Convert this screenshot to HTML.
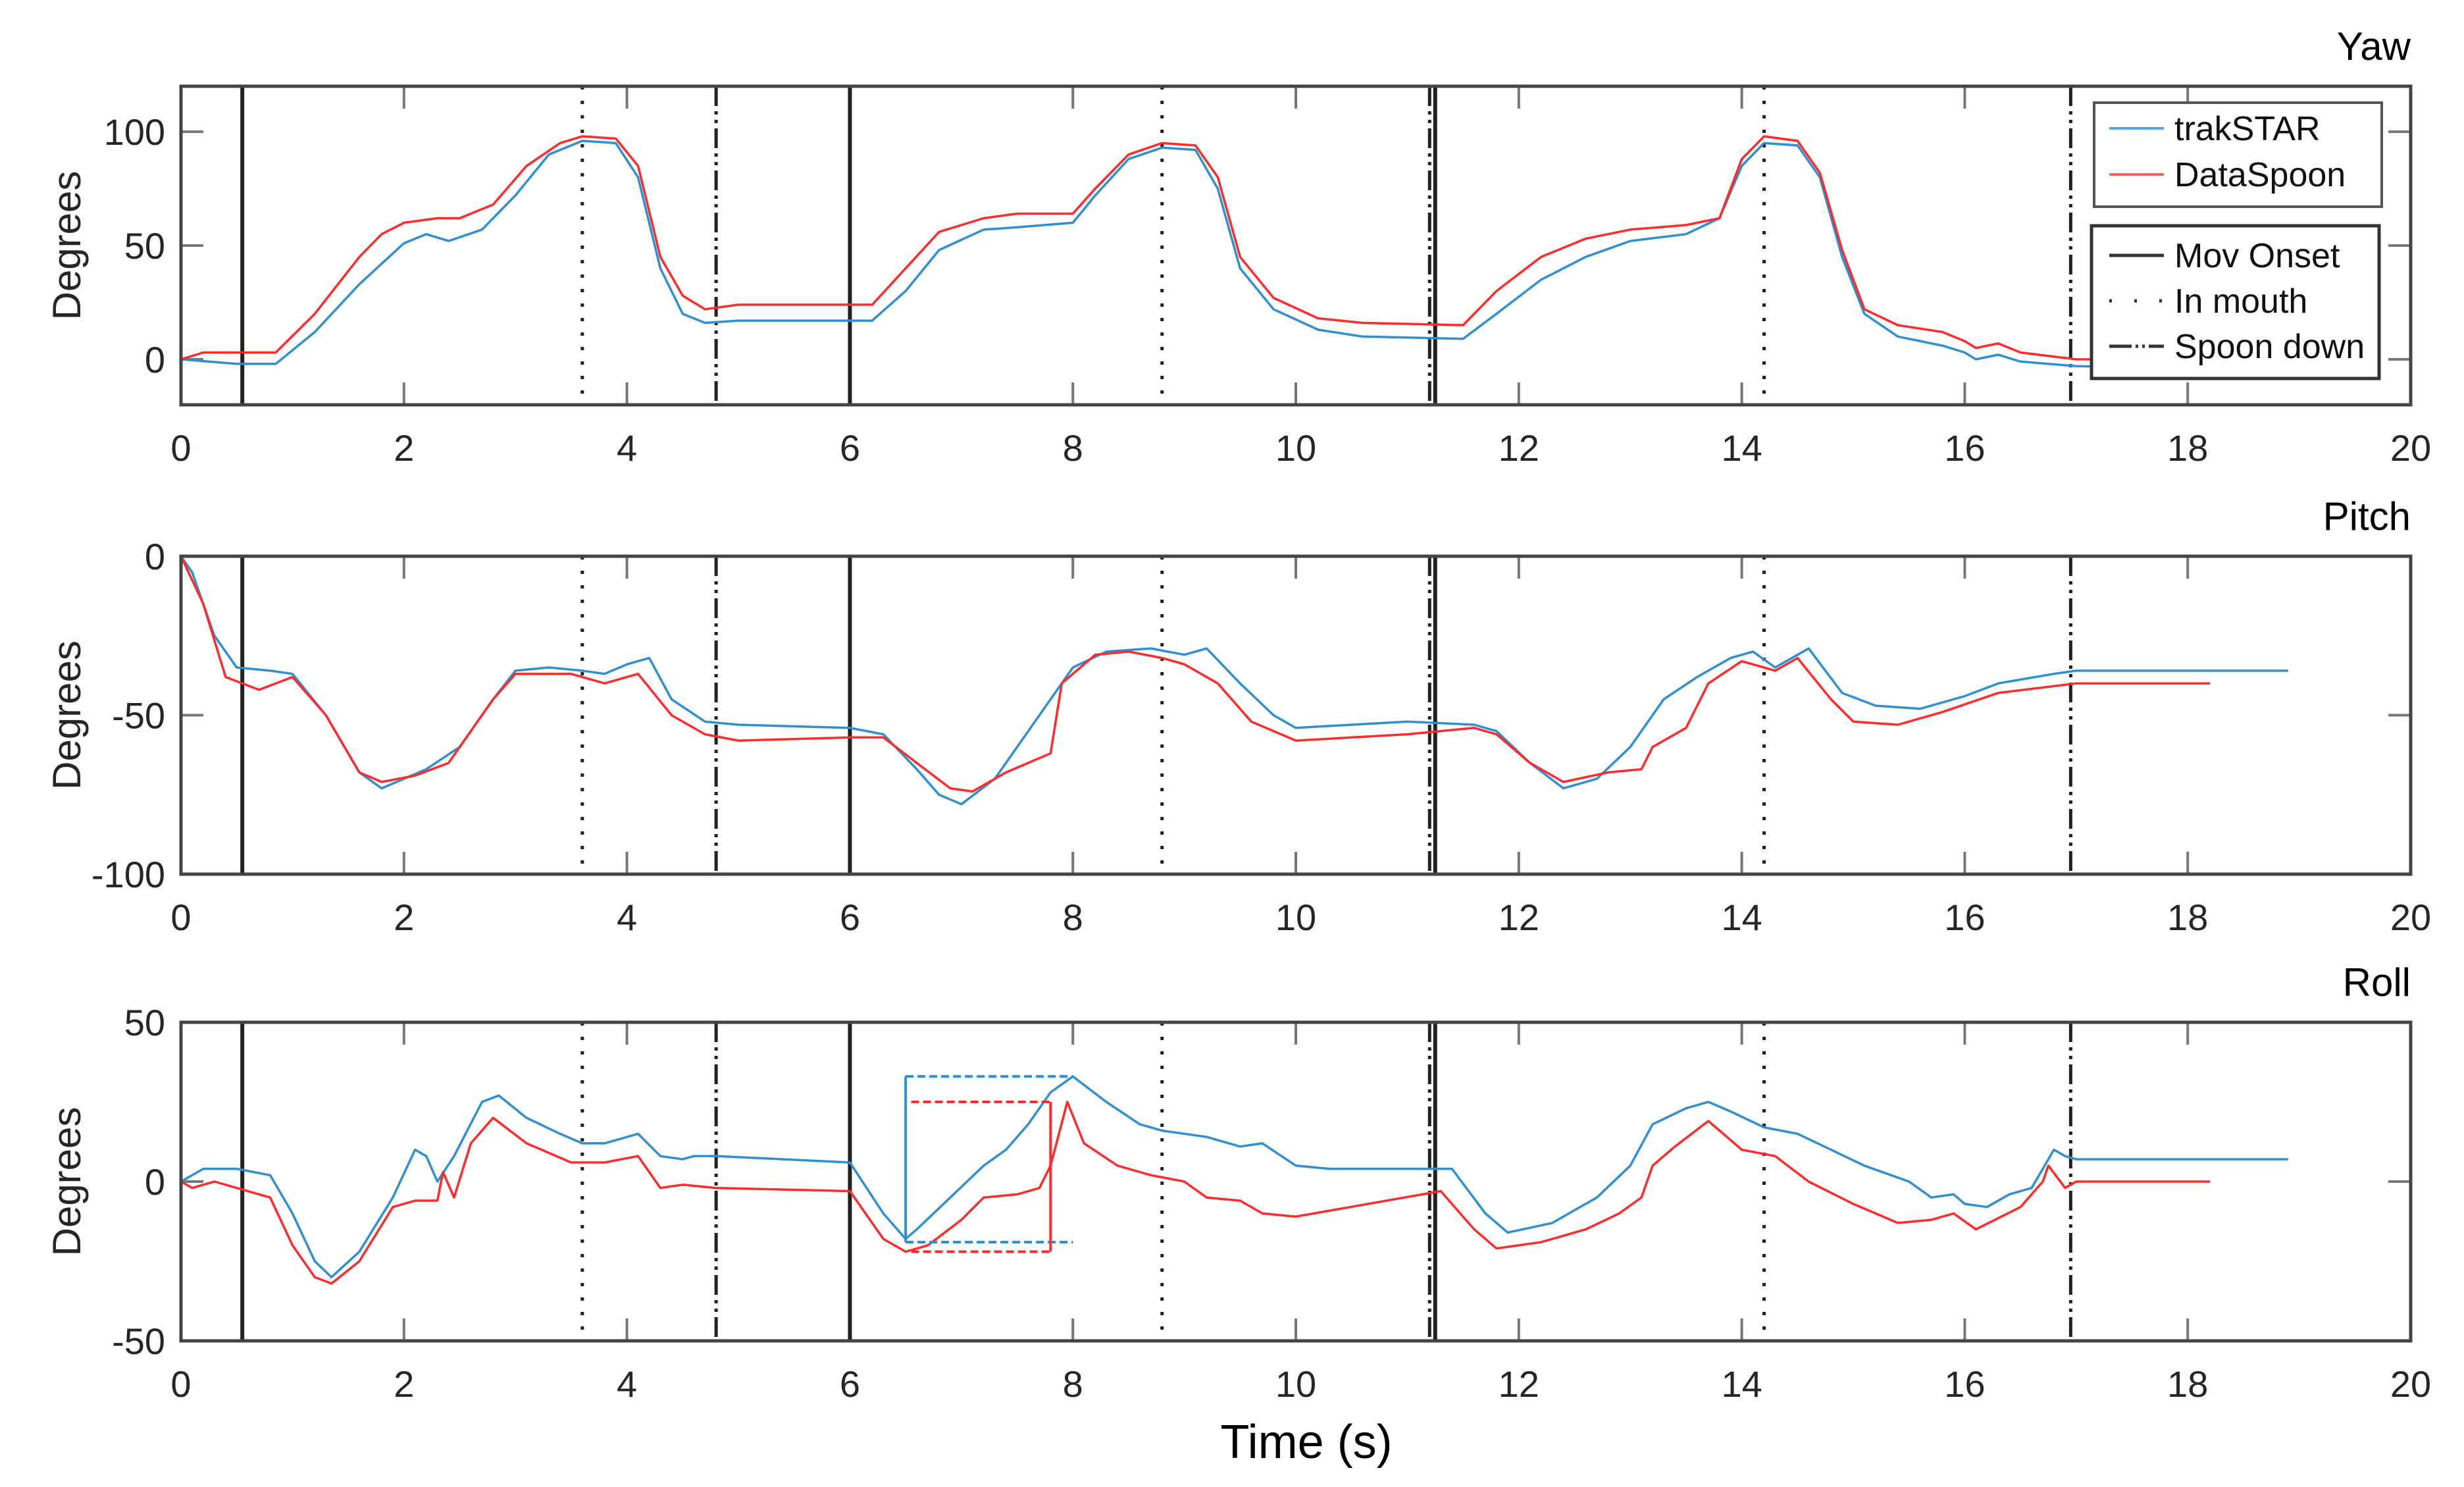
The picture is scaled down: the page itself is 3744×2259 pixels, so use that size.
<!DOCTYPE html>
<html><head><meta charset="utf-8"><style>
html,body{margin:0;padding:0;background:#fff;}
svg{display:block;font-family:"Liberation Sans",Arial,sans-serif;}
</style></head><body>
<svg id="fig" width="3744" height="2259" viewBox="0 0 3744 2259" xmlns="http://www.w3.org/2000/svg"></svg>
<script>
// ---- data ----
const xTicks=[0,2,4,6,8,10,12,14,16,18,20];
const movOnset=[0.55,6.0,11.25];
const inMouth=[3.6,8.8,14.2];
const spoonDown=[4.8,11.2,16.95];
const yawTicks=[0,50,100];
const pitchTicks=[-100,-50,0];
const rollTicks=[-50,0,50];
const yawBlueT=[0,0.5,0.85,1.2,1.6,2.0,2.2,2.4,2.7,3.0,3.3,3.6,3.9,4.1,4.3,4.5,4.7,5,6.2,6.5,6.8,7.2,7.5,8.0,8.2,8.5,8.8,9.1,9.3,9.5,9.8,10.2,10.6,11.5,11.8,12.2,12.6,13,13.5,13.8,14,14.2,14.5,14.7,14.9,15.1,15.4,15.8,16,16.1,16.3,16.5,17,18,18.9];
const yawBlueV=[0,-2,-2,12,33,51,55,52,57,72,90,96,95,80,40,20,16,17,17,30,48,57,58,60,72,88,93,92,75,40,22,13,10,9,20,35,45,52,55,62,85,95,94,80,45,20,10,6,3,0,2,-1,-3,-4,-4];
const yawRedT=[0,0.2,0.85,1.2,1.6,1.8,2.0,2.3,2.5,2.8,3.1,3.4,3.6,3.9,4.1,4.3,4.5,4.7,5,6.2,6.5,6.8,7.2,7.5,8.0,8.2,8.5,8.8,9.1,9.3,9.5,9.8,10.2,10.6,11.5,11.8,12.2,12.6,13,13.5,13.8,14,14.2,14.5,14.7,14.9,15.1,15.4,15.8,16,16.1,16.3,16.5,17,18,18.2];
const yawRedV=[0,3,3,20,45,55,60,62,62,68,85,95,98,97,85,45,28,22,24,24,40,56,62,64,64,75,90,95,94,80,45,27,18,16,15,30,45,53,57,59,62,88,98,96,82,48,22,15,12,8,5,7,3,0,0,0];
const pitchBlueT=[0,0.1,0.3,0.5,0.8,1.0,1.3,1.6,1.8,2.0,2.2,2.5,2.8,3.0,3.3,3.6,3.8,4.0,4.2,4.4,4.7,5.0,6.0,6.3,6.6,6.8,7.0,7.3,7.6,8.0,8.3,8.7,9.0,9.2,9.5,9.8,10.0,10.5,11.0,11.6,11.8,12.1,12.4,12.7,13.0,13.3,13.6,13.9,14.1,14.3,14.6,14.9,15.2,15.6,16.0,16.3,16.8,17,18.9];
const pitchBlueV=[0,-5,-25,-35,-36,-37,-50,-68,-73,-70,-67,-60,-45,-36,-35,-36,-37,-34,-32,-45,-52,-53,-54,-56,-67,-75,-78,-70,-55,-35,-30,-29,-31,-29,-40,-50,-54,-53,-52,-53,-55,-65,-73,-70,-60,-45,-38,-32,-30,-35,-29,-43,-47,-48,-44,-40,-37,-36,-36];
const pitchRedT=[0,0.2,0.4,0.7,1.0,1.3,1.6,1.8,2.1,2.4,2.8,3.0,3.5,3.8,4.1,4.4,4.7,5.0,6.0,6.3,6.6,6.9,7.1,7.4,7.8,7.9,8.2,8.5,8.8,9.0,9.3,9.6,10.0,10.5,11.0,11.6,11.8,12.1,12.4,12.8,13.1,13.2,13.5,13.7,14.0,14.3,14.5,14.8,15.0,15.4,15.8,16.3,17,18.2];
const pitchRedV=[0,-15,-38,-42,-38,-50,-68,-71,-69,-65,-45,-37,-37,-40,-37,-50,-56,-58,-57,-57,-65,-73,-74,-68,-62,-40,-31,-30,-32,-34,-40,-52,-58,-57,-56,-54,-56,-65,-71,-68,-67,-60,-54,-40,-33,-36,-32,-45,-52,-53,-49,-43,-40,-40];
const rollBlueT=[0,0.2,0.5,0.8,1.0,1.2,1.35,1.6,1.9,2.1,2.2,2.3,2.45,2.7,2.85,3.1,3.4,3.6,3.8,4.1,4.3,4.5,4.6,4.8,6.0,6.3,6.5,6.6,6.9,7.2,7.4,7.6,7.8,8.0,8.3,8.6,8.8,9.2,9.5,9.7,10.0,10.3,11.4,11.7,11.9,12.3,12.7,13.0,13.2,13.5,13.7,13.9,14.2,14.5,14.8,15.1,15.5,15.7,15.9,16.0,16.2,16.4,16.6,16.8,16.9,17.0,18.9];
const rollBlueV=[0,4,4,2,-10,-25,-30,-22,-5,10,8,0,8,25,27,20,15,12,12,15,8,7,8,8,6,-10,-18,-15,-5,5,10,18,28,33,25,18,16,14,11,12,5,4,4,-10,-16,-13,-5,5,18,23,25,22,17,15,10,5,0,-5,-4,-7,-8,-4,-2,10,8,7,7];
const rollRedT=[0,0.1,0.3,0.5,0.8,1.0,1.2,1.35,1.6,1.9,2.1,2.3,2.35,2.45,2.6,2.8,3.1,3.5,3.8,4.1,4.3,4.5,4.8,6.0,6.3,6.5,6.7,7.0,7.2,7.5,7.7,7.8,7.95,8.1,8.4,8.7,9.0,9.2,9.5,9.7,10.0,11.3,11.6,11.8,12.2,12.6,12.9,13.1,13.2,13.4,13.7,14.0,14.3,14.6,15.0,15.4,15.7,15.9,16.1,16.5,16.7,16.75,16.9,17.0,18.2];
const rollRedV=[0,-2,0,-2,-5,-20,-30,-32,-25,-8,-6,-6,3,-5,12,20,12,6,6,8,-2,-1,-2,-3,-18,-22,-20,-12,-5,-4,-2,5,25,12,5,2,0,-5,-6,-10,-11,-3,-15,-21,-19,-15,-10,-5,5,11,19,10,8,0,-7,-13,-12,-10,-15,-8,0,5,-2,0,0];
// roll inset boxes: [tStart,tEnd,yTop,yBottom]
const blueBox=[6.5,8.0,33,-19];
const redBox=[6.55,7.8,25,-22];

// ---- layout ----
const NS="http://www.w3.org/2000/svg";
const svg=document.getElementById('fig');
const X0=275,X1=3663;
const panels=[
 {name:'yaw',title:'Yaw',top:131,bot:615,ymin:-20,ymax:120,ticks:yawTicks,series:[[yawBlueT,yawBlueV,'#2f8fd4'],[yawRedT,yawRedV,'#ff2a2a']]},
 {name:'pitch',title:'Pitch',top:845,bot:1328,ymin:-100,ymax:0,ticks:pitchTicks,series:[[pitchBlueT,pitchBlueV,'#2f8fd4'],[pitchRedT,pitchRedV,'#ff2a2a']]},
 {name:'roll',title:'Roll',top:1553,bot:2037,ymin:-50,ymax:50,ticks:rollTicks,series:[[rollBlueT,rollBlueV,'#2f8fd4'],[rollRedT,rollRedV,'#ff2a2a']]}
];
function el(tag,attrs,parent){const e=document.createElementNS(NS,tag);for(const k in attrs)e.setAttribute(k,attrs[k]);(parent||svg).appendChild(e);return e;}
const xs=t=>X0+(t-0)/(20-0)*(X1-X0);

panels.forEach(p=>{
  const ys=v=>p.bot-(v-p.ymin)/(p.ymax-p.ymin)*(p.bot-p.top);
  const g=el('g',{});
  
  
  const clipId='clip-'+p.name;
  const cp=el('clipPath',{id:clipId},g);el('rect',{x:X0,y:p.top,width:X1-X0,height:p.bot-p.top},cp);
  xTicks.forEach(t=>{
    const x=xs(t);
    el('line',{x1:x,x2:x,y1:p.bot,y2:p.bot-34,stroke:'#777','stroke-width':4},g);
    el('line',{x1:x,x2:x,y1:p.top,y2:p.top+34,stroke:'#777','stroke-width':4},g);
    const tx=el('text',{x:x,y:p.bot+85,'font-size':56,'text-anchor':'middle',fill:'#262626'},g);
    tx.textContent=t;
    
    
  });
  p.ticks.forEach(v=>{
    const y=ys(v);
    el('line',{x1:X0,x2:X0+34,y1:y,y2:y,stroke:'#777','stroke-width':4},g);
    el('line',{x1:X1,x2:X1-34,y1:y,y2:y,stroke:'#777','stroke-width':4},g);
    const tx=el('text',{x:X0-24,y:y+20,'font-size':56,'text-anchor':'end',fill:'#262626'},g);
    tx.textContent=v;
    
    
  });
  const ev=(arr,dash,nm)=>arr.forEach(t=>{
    const l=el('line',{x1:xs(t),x2:xs(t),y1:p.top,y2:p.bot,stroke:'#222','stroke-width':dash?5:6,'stroke-dasharray':dash||'none'},g);
    
    
  });
  ev(movOnset,null,'mov-onset-line');
  ev(inMouth,'5 17','in-mouth-line');
  ev(spoonDown,'30 8 5 8 5 8','spoon-down-line');
  const sg=el('g',{'clip-path':'url(#'+clipId+')'},g);
  p.series.forEach((s,i)=>{
    const d=s[0].map((t,k)=>(k?'L':'M')+xs(t).toFixed(1)+','+ys(s[1][k]).toFixed(1)).join(' ');
    const path=el('path',{d:d,fill:'none',stroke:s[2],'stroke-width':3.5,'stroke-linejoin':'round'},sg);
    
    
  });
  if(p.name==='roll'){
    [[blueBox,'#2f8fd4',0],[redBox,'#ff2a2a',1]].forEach(([b,c,isRed])=>{
      const bx=el('g',{},g);
      
      
      const vx=isRed?xs(b[1]):xs(b[0]);
      el('line',{x1:vx,x2:vx,y1:ys(b[2]),y2:ys(b[3]),stroke:c,'stroke-width':4},bx);
      el('line',{x1:xs(b[0]),x2:xs(b[1]),y1:ys(b[2]),y2:ys(b[2]),stroke:c,'stroke-width':4,'stroke-dasharray':'12 6'},bx);
      el('line',{x1:xs(b[0]),x2:xs(b[1]),y1:ys(b[3]),y2:ys(b[3]),stroke:c,'stroke-width':4,'stroke-dasharray':'12 6'},bx);
    });
  }
  el('rect',{x:X0,y:p.top,width:X1-X0,height:p.bot-p.top,fill:'none',stroke:'#444','stroke-width':5},g);
  const tt=el('text',{x:X1,y:p.top-40,'font-size':60,'text-anchor':'end',fill:'#000'},g);
  tt.textContent=p.title;
  
  
  const yl=el('text',{x:0,y:0,'font-size':60,'text-anchor':'middle',fill:'#262626',transform:'translate(122,'+((p.top+p.bot)/2)+') rotate(-90)'},g);
  yl.textContent='Degrees';
  
  
});
const xl=el('text',{x:1985,y:2215,'font-size':72,'text-anchor':'middle',fill:'#000'});
xl.textContent='Time (s)';



const lg1=el('g',{});


el('rect',{x:3182,y:156,width:437,height:158,fill:'#fff',stroke:'#555','stroke-width':4},lg1);
[['trakSTAR','#5aa8e0',195],['DataSpoon','#ff6060',265]].forEach(([n,c,y])=>{
  el('line',{x1:3205,x2:3288,y1:y,y2:y,stroke:c,'stroke-width':4},lg1);
  const t=el('text',{x:3304,y:y+18,'font-size':52,fill:'#111'},lg1);t.textContent=n;
  
  
});
const lg2=el('g',{});


el('rect',{x:3178,y:343,width:437,height:232,fill:'#fff',stroke:'#333','stroke-width':5},lg2);
[['Mov Onset','none',388],['In mouth','4 34',457],['Spoon down','34 6 4 6 4 6',526]].forEach(([n,d,y])=>{
  el('line',{x1:3205,x2:3288,y1:y,y2:y,stroke:'#333','stroke-width':5,'stroke-dasharray':d},lg2);
  const t=el('text',{x:3304,y:y+18,'font-size':52,fill:'#111'},lg2);t.textContent=n;
  
  
});
</script>
</body></html>
